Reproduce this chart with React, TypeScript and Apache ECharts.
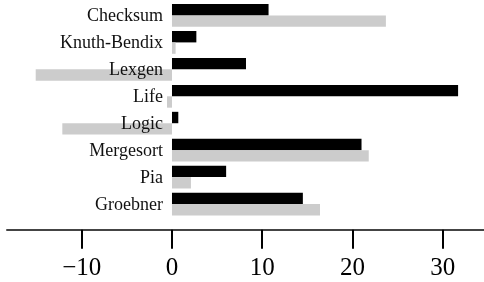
import React, { useEffect, useRef } from "react";
import * as echarts from "echarts";

const categories = ["Checksum", "Knuth-Bendix", "Lexgen", "Life", "Logic", "Mergesort", "Pia", "Groebner"];
const seriesBlack = [10.7, 2.7, 8.2, 31.7, 0.7, 21.0, 6.0, 14.5];
const seriesGray = [23.7, 0.4, -15.1, -0.55, -12.15, 21.8, 2.1, 16.4];
const tickValues = [-10, 0, 10, 20, 30];

export default function App() {
  const ref = useRef<HTMLDivElement>(null);
  useEffect(() => {
    if (!ref.current) return;
    const chart = echarts.init(ref.current, null, { renderer: "svg" });
    chart.setOption({
      animation: false,
      grid: { left: 7, right: 0, top: 2, bottom: 64.5, containLabel: false, outerBoundsMode: "none" },
      xAxis: {
        type: "value",
        min: -18.28,
        max: 34.57,
        offset: 12.2,
        axisLine: { show: true, lineStyle: { color: "#444", width: 2 } },
        axisTick: { show: true, customValues: tickValues, length: 19, lineStyle: { color: "#000", width: 2 } },
        splitLine: { show: false },
        axisLabel: {
          customValues: tickValues,
          margin: 24,
          fontFamily: "Liberation Serif",
          fontSize: 25,
          color: "#000",
          formatter: (v: number) => (v < 0 ? "\u2212" + Math.abs(v) : String(v)),
        },
      },
      yAxis: {
        type: "category",
        data: categories,
        inverse: true,
        z: 10,
        offset: -165,
        axisLine: { show: false, onZero: false },
        axisTick: { show: false },
        axisLabel: {
          margin: 9,
          fontFamily: "Liberation Serif",
          fontSize: 18,
          color: "#111",
        },
      },
      series: [
        {
          type: "bar",
          data: seriesBlack,
          barWidth: 11.4,
          barGap: "0%",
          itemStyle: { color: "#000" },
        },
        {
          type: "bar",
          data: seriesGray,
          barWidth: 11.4,
          barGap: "0%",
          itemStyle: { color: "#cccccc" },
        },
      ],
    });
    return () => chart.dispose();
  }, []);
  return <div ref={ref} style={{ position: "fixed", left: 0, top: 0, width: 484, height: 282 }} />;
}
